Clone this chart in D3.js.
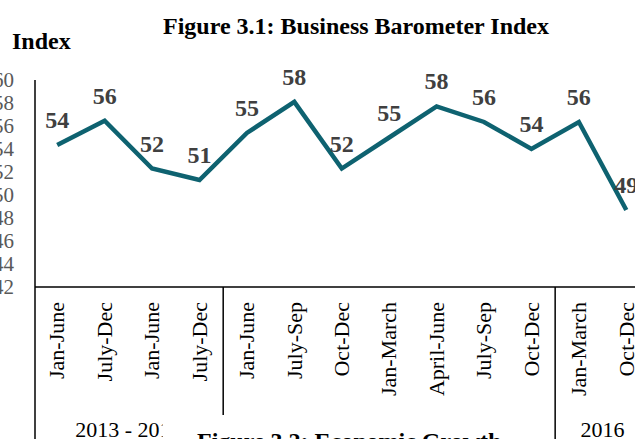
<!DOCTYPE html>
<html>
<head>
<meta charset="utf-8">
<script src="https://cdn.jsdelivr.net/npm/d3@7"></script>
<style>
  html, body { margin: 0; padding: 0; background: #fff; overflow: hidden; }
  svg { display: block; }
  text { font-family: "Liberation Serif", "Times New Roman", serif; }
</style>
</head>
<body>
<svg id="chart" width="635" height="439"></svg>
<script>
// ---- data ----
const categories = ["Jan-June","July-Dec","Jan-June","July-Dec","Jan-June","July-Sep","Oct-Dec","Jan-March","April-June","July-Sep","Oct-Dec","Jan-March","Oct-Dec"];
const values = [54.35, 56.46, 52.3, 51.3, 55.4, 58.1, 52.3, 55.0, 57.7, 56.35, 54.0, 56.35, 48.7];
const groupLabels = ["2013 - 2014", "2015", "2016"];
const groupSizes = [4, 7, 2];
const yTicks = [42, 44, 46, 48, 50, 52, 54, 56, 58, 60];
const titleText = "Figure 3.1: Business Barometer Index";
const yTitleText = "Index";
const nextFigureText = "Figure 3.2: Economic Growth";

// ---- layout ----
const W = 635, H = 439;
const axisX = 35, axisY = 287, plotTop = 80;
const lineColor = "#0e6270";

const svg = d3.select("#chart");

const x = d3.scaleBand().domain(d3.range(categories.length)).range([33.5, 650]).padding(0);
const y = d3.scaleLinear().domain([42, 60]).range([axisY, plotTop]);

// title
svg.append("text").attr("x", 356).attr("y", 34).attr("text-anchor", "middle")
  .attr("font-weight", "bold").attr("font-size", 24).attr("fill", "#000").text(titleText);
svg.append("text").attr("x", 12).attr("y", 49).attr("text-anchor", "start")
  .attr("font-weight", "bold").attr("font-size", 24).attr("fill", "#000").text(yTitleText);

// y axis (labels)
const yAxis = d3.axisLeft(y).tickValues(yTicks).tickSize(0).tickPadding(21).tickFormat(d3.format("d"));
const gy = svg.append("g").attr("transform", `translate(${axisX},0)`).call(yAxis);
gy.select(".domain").remove();
gy.selectAll("text").attr("font-size", 21).attr("fill", "#595959")
  .attr("font-family", "Liberation Serif, Times New Roman, serif");

// x axis (category labels)
const xAxis = d3.axisBottom(x).tickSize(0).tickFormat(i => categories[i]);
const gx = svg.append("g").attr("transform", `translate(0,${axisY})`).call(xAxis);
gx.select(".domain").remove();
gx.selectAll("text")
  .attr("font-size", 22).attr("fill", "#000")
  .attr("font-family", "Liberation Serif, Times New Roman, serif")
  .attr("text-anchor", "end")
  .attr("transform", "rotate(-90)")
  .attr("x", -15).attr("y", 0).attr("dy", "0.33em");

// axis lines
svg.append("line").attr("x1", axisX).attr("x2", axisX).attr("y1", plotTop).attr("y2", H)
  .attr("stroke", "#000").attr("stroke-width", 1.5);
svg.append("line").attr("x1", axisX).attr("x2", W).attr("y1", axisY).attr("y2", axisY)
  .attr("stroke", "#000").attr("stroke-width", 1.5);

// group separators and labels
let acc = 0;
groupSizes.forEach((n, gi) => {
  const start = x(acc);
  const end = x(acc + n - 1) + x.bandwidth();
  if (gi > 0) {
    svg.append("line").attr("x1", start).attr("x2", start).attr("y1", axisY).attr("y2", H)
      .attr("stroke", "#000").attr("stroke-width", 1.5);
  }
  svg.append("text").attr("x", (start + end) / 2).attr("y", 437).attr("text-anchor", "middle")
    .attr("font-size", 22).attr("fill", "#000").text(groupLabels[gi]);
  acc += n;
});

// line
const line = d3.line().x((d, i) => x(i) + x.bandwidth() / 2).y(d => y(d));
svg.append("path").datum(values).attr("d", line)
  .attr("fill", "none").attr("stroke", lineColor).attr("stroke-width", 4.5)
  .attr("stroke-linejoin", "miter").attr("stroke-linecap", "butt");

// data labels
svg.append("g").selectAll("text").data(values).join("text")
  .attr("x", (d, i) => x(i) + x.bandwidth() / 2)
  .attr("y", d => y(d) - 17)
  .attr("text-anchor", "middle")
  .attr("font-weight", "bold").attr("font-size", 24).attr("fill", "#404040")
  .text(d => d3.format(".0f")(d));

// overlapping caption of next figure (cropped)
svg.append("rect").attr("x", 163).attr("y", 415).attr("width", 378).attr("height", 30).attr("fill", "#fff");
svg.append("text").attr("x", 197).attr("y", 449).attr("text-anchor", "start")
  .attr("font-weight", "bold").attr("font-size", 24).attr("fill", "#000").text(nextFigureText);
</script>
</body>
</html>
